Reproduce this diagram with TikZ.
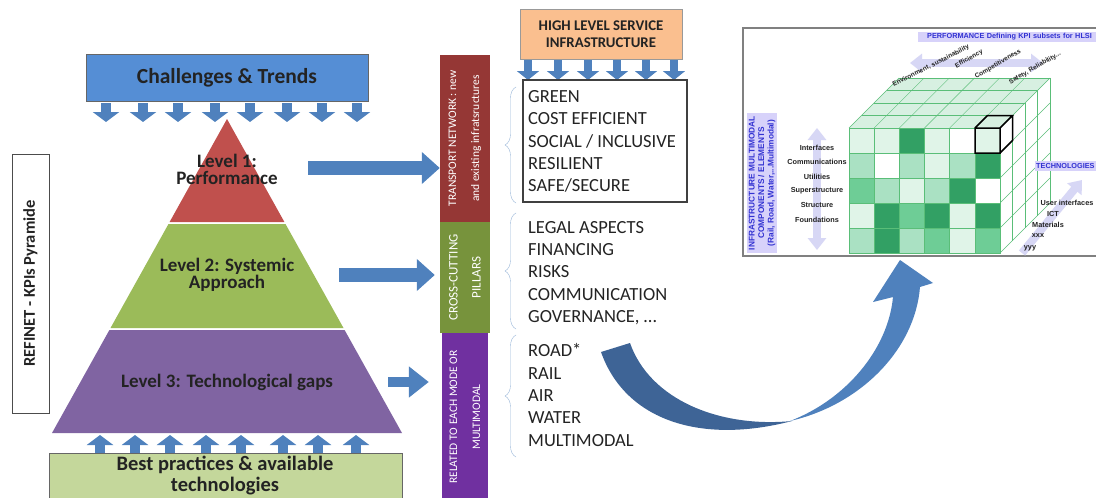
\documentclass[tikz,border=0pt]{standalone}
\usepackage{fontspec}
\setmainfont{Carlito}
\newfontfamily\arialfont{Liberation Sans}
\usetikzlibrary{arrows.meta,decorations.pathreplacing}

\definecolor{ctblue}{RGB}{85,142,213}
\definecolor{arrblue}{RGB}{79,129,189}
\definecolor{darkblue}{RGB}{62,100,150}
\definecolor{lvlred}{RGB}{192,80,77}
\definecolor{lvlgreen}{RGB}{155,187,89}
\definecolor{lvlpurple}{RGB}{128,100,162}
\definecolor{bpgreen}{RGB}{196,215,155}
\definecolor{barred}{RGB}{149,55,53}
\definecolor{bargreen}{RGB}{119,147,60}
\definecolor{barpurple}{RGB}{112,48,160}
\definecolor{hlsorange}{RGB}{250,191,143}
\definecolor{bracecol}{RGB}{150,180,215}
\definecolor{lav}{RGB}{215,210,250}
\definecolor{lavarr}{RGB}{215,215,245}
\definecolor{lavtext}{RGB}{50,50,210}
\definecolor{gline}{RGB}{90,190,120}
\definecolor{gtop}{RGB}{215,240,225}
\definecolor{g0}{RGB}{255,255,255}
\definecolor{g1}{RGB}{224,244,232}
\definecolor{g2}{RGB}{170,225,195}
\definecolor{g3}{RGB}{110,205,150}
\definecolor{g4}{RGB}{50,160,100}
\definecolor{txt}{RGB}{35,35,35}

\tikzset{
  dnarr/.style={draw=arrblue, line width=10pt, -{Triangle[width=26pt,length=10pt]}},
  smarr/.style={draw=arrblue, line width=8pt, -{Triangle[width=22pt,length=9pt]}},
  bigarr/.style={draw=arrblue, line width=14pt, -{Triangle[width=31pt,length=18pt]}},
  lvltext/.style={font=\bfseries\fontsize{19}{17}\selectfont, align=center, text=txt},
  barnode/.style={rotate=90, inner sep=0pt, text=white, align=center,
    font=\fontsize{11.5}{23}\selectfont},
  listtext/.style={anchor=west, align=left, inner sep=0pt, text=txt,
    font=\fontsize{18.5}{22.3}\selectfont},
  lavbox/.style={fill=lav, inner sep=1pt, text=lavtext,
    font=\arialfont\bfseries\fontsize{7.3}{8}\selectfont},
  cubelbl/.style={inner sep=0pt, text=txt, font=\arialfont\bfseries\fontsize{7.3}{8}\selectfont},
  lavarrow/.style={draw=lavarr, line width=8pt}
}

\begin{document}
\begin{tikzpicture}[x=1pt,y=-1pt]
\useasboundingbox (0,0) rectangle (1096,498);

% challenges and trends
\node[draw=black!60, fill=ctblue, minimum width=282pt, minimum height=47pt,
  font=\bfseries\fontsize{21.5}{24}\selectfont, text=txt] (chal) at (227,78) {Challenges \& Trends};
\foreach \x in {106,143,178,215,250,287,322,357}
  \draw[dnarr] (\x,103) -- (\x,122);

% pyramid
\fill[lvlred] (227,119) -- (284.4,222) -- (169.6,222) -- cycle;
\fill[lvlgreen] (168.5,224) -- (285.5,224) -- (343.5,328) -- (110.5,328) -- cycle;
\fill[lvlpurple] (109.4,330) -- (344.6,330) -- (402,433) -- (52,433) -- cycle;
\node[lvltext] (lvl1) at (227,169) {Level 1:\\Performance};
\node[lvltext] (lvl2) at (227,275) {Level 2: Systemic\\Approach};
\node[lvltext] (lvl3) at (227,382) {Level 3: Technological gaps};

% best practices
\foreach \x in {100,135,170,206,241,283,318,356}
  \draw[dnarr] (\x,453) -- (\x,435);
\draw[draw=black!60, fill=bpgreen] (49,453) rectangle (402,505);
\node[lvltext, font=\bfseries\fontsize{20.5}{21}\selectfont] (best) at (225,476) {Best practices \& available\\technologies};

% side label
\node[draw=black!70, rotate=90, minimum width=259pt, minimum height=37pt,
  font=\bfseries\fontsize{16.5}{18}\selectfont, text=txt] (refinet) at (30.5,283.5) {REFINET - KPIs Pyramide};

% coloured bars
\node[barnode, fill=barred, minimum width=167pt, minimum height=50pt] (tnbar) at (465,138.5)
  {TRANSPORT NETWORK : new\\and existing infratsructures};
\node[barnode, fill=bargreen, minimum width=111pt, minimum height=50pt,
  font=\fontsize{13}{23}\selectfont] (cpbar) at (465,277.5)
  {CROSS-CUTTING\\PILLARS};
\node[barnode, fill=barpurple, minimum width=168pt, minimum height=46pt] (rmbar) at (465,417)
  {RELATED TO EACH MODE OR\\MULTIMODAL};

% arrows pyramid -> bars
\coordinate (a1) at (308,168);
\coordinate (a2) at (339,275);
\coordinate (a3) at (388,382);
\draw[bigarr] (a1) -- (a1 -| tnbar.north);
\draw[bigarr, shorten >=5pt] (a2) -- (a2 -| cpbar.north);
\draw[bigarr, line width=10pt, -{Triangle[width=30pt,length=20pt]}, shorten >=13pt] (a3) -- (a3 -| rmbar.north);

% high level service infrastructure
\node[draw=black!40, fill=hlsorange, minimum width=162pt, minimum height=50pt, align=center,
  font=\bfseries\fontsize{14.8}{17}\selectfont, text=txt] (hlsi) at (601,34) {HIGH LEVEL SERVICE\\INFRASTRUCTURE};
\foreach \x in {528,558,588,617,646,674}
  \draw[smarr] (\x,60) -- (\x,80);

% lists
\draw[black!75, line width=1.2pt] (523,80) rectangle (687,202);
\node[listtext] (qual) at (528,141.5) {GREEN\\COST EFFICIENT\\SOCIAL / INCLUSIVE\\RESILIENT\\SAFE/SECURE};
\node[listtext] (pill) at (528,273) {LEGAL ASPECTS\\FINANCING\\RISKS\\COMMUNICATION\\GOVERNANCE, \dots};
\node[listtext] (mode) at (528,395) {ROAD*\\RAIL\\AIR\\WATER\\MULTIMODAL};
\draw[bracecol, decorate, decoration={brace, amplitude=11pt}] (516,203) -- (516,87);
\draw[bracecol, decorate, decoration={brace, amplitude=11pt}] (516,329) -- (516,213);
\draw[bracecol, decorate, decoration={brace, amplitude=11pt}] (516,457) -- (516,335);

% curved arrow
\fill[darkblue] (601,352) .. controls (625,420) and (700,445) .. (792,421)
  .. controls (720,428) and (650,400) .. (630,343) -- cycle;
\fill[arrblue] (790,421) .. controls (860,405) and (915,350) .. (920,287)
  -- (933,283) -- (900,260) -- (873,302) -- (893,297)
  .. controls (888,350) and (845,400) .. (790,421) -- cycle;

% cube panel
\draw[black!50, line width=2pt, fill=white] (743,28) rectangle (1110,256);
\fill[gtop] (849,128) -- (1000,128) -- (1050,78) -- (899,78) -- cycle;
\foreach \k in {0,...,4}
  \draw[gline] ({849+12.5*\k},{128-12.5*\k}) -- ++(151,0);
\foreach \i in {0,...,6}
  \draw[gline] ({849+25.17*\i},128) -- ++(50,-50);
\foreach \k in {1,...,4}
  \draw[gline] ({1000+12.5*\k},{128-12.5*\k}) -- ++(0,125);
\foreach \j in {1,...,5}
  \draw[gline] (1000,{128+25*\j}) -- ++(50,-50);
\foreach \r/\cells in {0/{g1,g1,g4,g1,g0,g1}, 1/{g2,g0,g2,g1,g2,g4},
    2/{g3,g2,g1,g2,g4,g0}, 3/{g1,g4,g3,g4,g1,g4}, 4/{g2,g4,g2,g3,g1,g3}}
  \foreach \c [count=\i from 0] in \cells
    \filldraw[fill=\c, draw=gline] ({849+25.17*\i},{128+25*\r}) rectangle ++(25.17,25);
\draw[black, line width=1.5pt] (975,128) rectangle (1000,153)
  (975,128) -- (987.5,115.5) -- (1012.5,115.5) -- (1000,128)
  (1012.5,115.5) -- (1012.5,140.5) -- (1000,153);

% cube labels
\node[lavbox, anchor=west, minimum height=10pt, inner xsep=9pt, text width=175pt] (perf) at (918,37) {PERFORMANCE Defining KPI subsets for HLSI};
\draw[lavarrow, {Triangle[width=18pt,length=12pt]}-{Triangle[width=18pt,length=12pt]}] (910,63) -- (1043,63);
\node[cubelbl, rotate=27, font=\arialfont\bfseries\fontsize{6.5}{7}\selectfont] (env) at (931,66) {Environment, sustainability};
\node[cubelbl, rotate=30, font=\arialfont\bfseries\fontsize{6.5}{7}\selectfont] (eff) at (969,59) {Efficiency};
\node[cubelbl, rotate=30, font=\arialfont\bfseries\fontsize{6.5}{7}\selectfont] (comp) at (998,64) {Competitiveness};
\node[cubelbl, rotate=30, font=\arialfont\bfseries\fontsize{6.5}{7}\selectfont] (safe) at (1035,68) {Safety, Reliability...};

\node[lavbox, rotate=90, minimum width=140pt, minimum height=30pt, align=center,
  font=\arialfont\bfseries\fontsize{8.3}{9.5}\selectfont] (infra) at (762,183)
  {INFRASTRUCTURE MULTIMODAL\\COMPONENTS / ELEMENTS\\(Rail, Road, Water,...Multimodal)};
\draw[lavarrow, {Triangle[width=18pt,length=12pt]}-{Triangle[width=18pt,length=12pt]}] (817,128) -- (817,250);
\node[cubelbl] (c1) at (817,148) {Interfaces};
\node[cubelbl] (c2) at (817,162) {Communications};
\node[cubelbl] (c3) at (817,177) {Utilities};
\node[cubelbl] (c4) at (817,191) {Superstructure};
\node[cubelbl] (c5) at (817,205) {Structure};
\node[cubelbl] (c6) at (817,220) {Foundations};

\node[lavbox, anchor=west, minimum height=10pt, text width=70pt] (tech) at (1035,166) {TECHNOLOGIES};
\draw[lavarrow, -{Triangle[width=18pt,length=12pt]}] (1022,253) -- (1082,180);
\node[cubelbl] (t1) at (1067,203) {User interfaces};
\node[cubelbl] (t2) at (1053,214) {ICT};
\node[cubelbl] (t3) at (1048,225) {Materials};
\node[cubelbl] (t4) at (1038,236) {xxx};
\node[cubelbl] (t5) at (1030,248) {yyy};
\end{tikzpicture}
\end{document}
